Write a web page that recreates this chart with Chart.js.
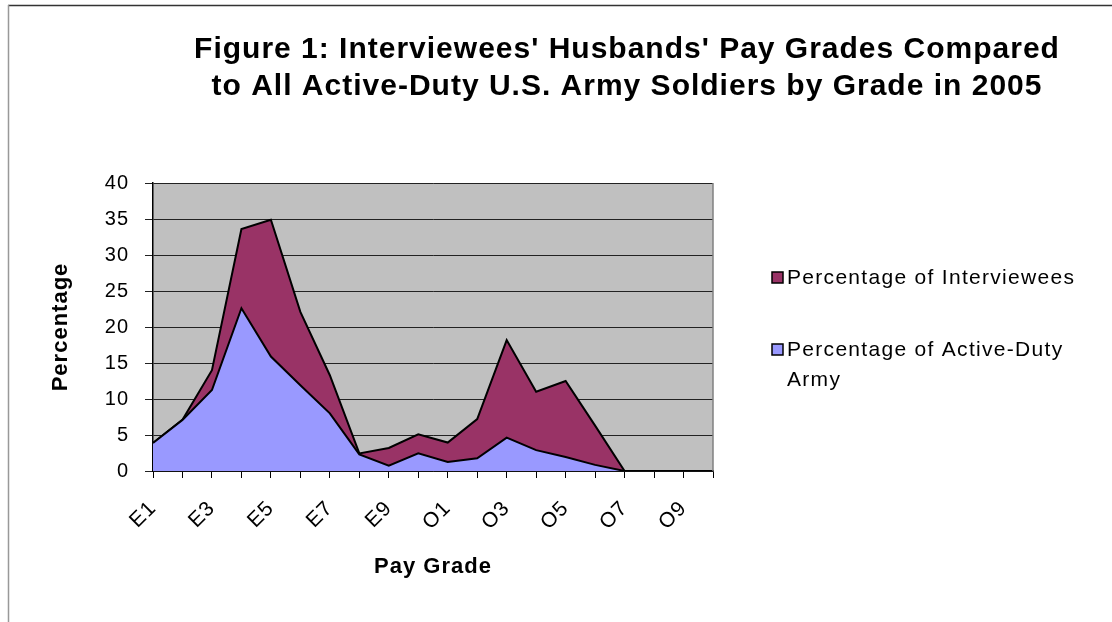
<!DOCTYPE html>
<html>
<head>
<meta charset="utf-8">
<script src="https://cdn.jsdelivr.net/npm/chart.js@4.4.1/dist/chart.umd.min.js"></script>
<style>
  html, body { margin: 0; padding: 0; background: #fff; }
  #wrap { position: relative; width: 1112px; height: 622px; }
</style>
</head>
<body>
<div id="wrap"><canvas id="c" width="1112" height="622"></canvas></div>
<script>
const titleLines = ["Figure 1: Interviewees' Husbands' Pay Grades Compared", "to All Active-Duty U.S. Army Soldiers by Grade in 2005"];
const categories = ["E1","E2","E3","E4","E5","E6","E7","E8","E9","W","O1","O2","O3","O4","O5","O6","O7","O8","O9","O10"];
const armyPct = [3.9, 7.1, 11.25, 22.6, 15.9, 11.9, 8.0, 2.3, 0.75, 2.45, 1.25, 1.76, 4.64, 2.9, 1.95, 0.85, 0, 0, 0, 0];
const intervieweePct = [0, 0, 2.75, 11.0, 19.0, 10.2, 5.3, 0.15, 2.45, 2.65, 2.7, 5.45, 13.55, 8.1, 10.55, 5.45, 0, 0, 0, 0];
const yTicks = [0, 5, 10, 15, 20, 25, 30, 35, 40];
const seriesNames = ["Percentage of Active-Duty Army", "Percentage of Interviewees"];
const legendLines = { "Percentage of Active-Duty Army": ["Percentage of Active-Duty", "Army"] };

const FONT = "Arial, 'Liberation Sans', sans-serif";

const framePlugin = {
  id: 'frame',
  beforeUpdate(chart) { chart.ctx.letterSpacing = '1px'; },
  beforeDraw(chart) {
    const { ctx, chartArea: a } = chart;
    ctx.letterSpacing = '1px';
    ctx.save();
    ctx.fillStyle = '#ffffff';
    ctx.fillRect(0, 0, chart.width, chart.height);
    ctx.fillStyle = '#C0C0C0';
    ctx.fillRect(a.left, a.top, a.right - a.left, a.bottom - a.top);
    // outer frame
    ctx.strokeStyle = '#333';
    ctx.lineWidth = 1.5;
    ctx.beginPath(); ctx.moveTo(8, 5.5); ctx.lineTo(chart.width, 5.5); ctx.stroke();
    ctx.strokeStyle = '#999';
    ctx.lineWidth = 1.5;
    ctx.beginPath(); ctx.moveTo(8.5, 5); ctx.lineTo(8.5, chart.height); ctx.stroke();
    ctx.restore();
  },
  afterDraw(chart) {
    const { ctx, chartArea: a } = chart;
    ctx.save();
    // plot border right side
    ctx.strokeStyle = '#808080';
    ctx.lineWidth = 1.5;
    ctx.beginPath(); ctx.moveTo(a.right, a.top); ctx.lineTo(a.right, a.bottom); ctx.stroke();
    // title
    ctx.fillStyle = '#000';
    ctx.letterSpacing = '1px';
    ctx.font = "bold 30px " + FONT;
    ctx.textAlign = 'center';
    ctx.textBaseline = 'middle';
    ctx.fillText(titleLines[0], 627, 50);
    ctx.fillText(titleLines[1], 627, 87);
    // legend (reverse order, like Excel stacked area)
    const ds = chart.data.datasets.slice().reverse();
    const ys = [278, 350];
    ctx.font = "21px " + FONT;
    ctx.letterSpacing = '1.3px';
    ctx.textAlign = 'left';
    ds.forEach((d, i) => {
      const y = ys[i];
      ctx.fillStyle = d.backgroundColor;
      ctx.fillRect(772, y - 6, 11, 11);
      ctx.strokeStyle = '#000';
      ctx.lineWidth = 1.5;
      ctx.strokeRect(772, y - 6, 11, 11);
      ctx.fillStyle = '#000';
      const lines = legendLines[d.label] || [d.label];
      lines.forEach((t, j) => ctx.fillText(t, 787, y + j * 30));
    });
    ctx.restore();
  }
};

new Chart(document.getElementById('c'), {
  type: 'line',
  data: {
    labels: categories,
    datasets: [
      { label: seriesNames[0], data: armyPct, fill: 'origin', backgroundColor: '#9999FF', borderColor: '#000', borderWidth: 2, pointRadius: 0, tension: 0, stack: 's' },
      { label: seriesNames[1], data: intervieweePct, fill: '-1', backgroundColor: '#993366', borderColor: '#000', borderWidth: 2, pointRadius: 0, tension: 0, stack: 's' }
    ]
  },
  options: {
    responsive: false,
    animation: false,
    devicePixelRatio: 1,
    layout: { padding: { top: 183, right: 399, left: 0, bottom: 0 } },
    plugins: {
      legend: { display: false },
      title: { display: false },
      tooltip: { enabled: false },
      filler: { propagate: false }
    },
    scales: {
      x: {
        offset: false,
        grid: { display: true, drawOnChartArea: false, drawTicks: true, tickLength: 7, color: '#000', lineWidth: 1 },
        border: { display: true, color: '#000', width: 1.5 },
        ticks: {
          autoSkip: false, maxRotation: 45, minRotation: 45, color: '#000',
          font: { family: FONT, size: 21 }, padding: 18,
          callback: function(v, i) { return i % 2 === 0 ? categories[i] : ''; }
        },
        title: { display: true, text: 'Pay Grade', color: '#000', font: { family: FONT, size: 22, weight: 'bold' }, padding: { top: 0, bottom: 42 } },
        afterFit(s) { s.height = 151; }
      },
      y: {
        stacked: true,
        min: 0, max: 40,
        afterBuildTicks(s) { s.ticks = yTicks.map(v => ({ value: v })); },
        grid: { color: '#222', lineWidth: 1, tickLength: 8, drawTicks: true },
        border: { display: true, color: '#000', width: 1.5 },
        ticks: { color: '#000', font: { family: FONT, size: 20 }, padding: 16 },
        title: { display: true, text: 'Percentage', color: '#000', font: { family: FONT, size: 22, weight: 'bold' }, padding: { top: 48, bottom: 0 } },
        afterFit(s) { s.width = 153; }
      }
    }
  },
  plugins: [framePlugin]
});
</script>
</body>
</html>
